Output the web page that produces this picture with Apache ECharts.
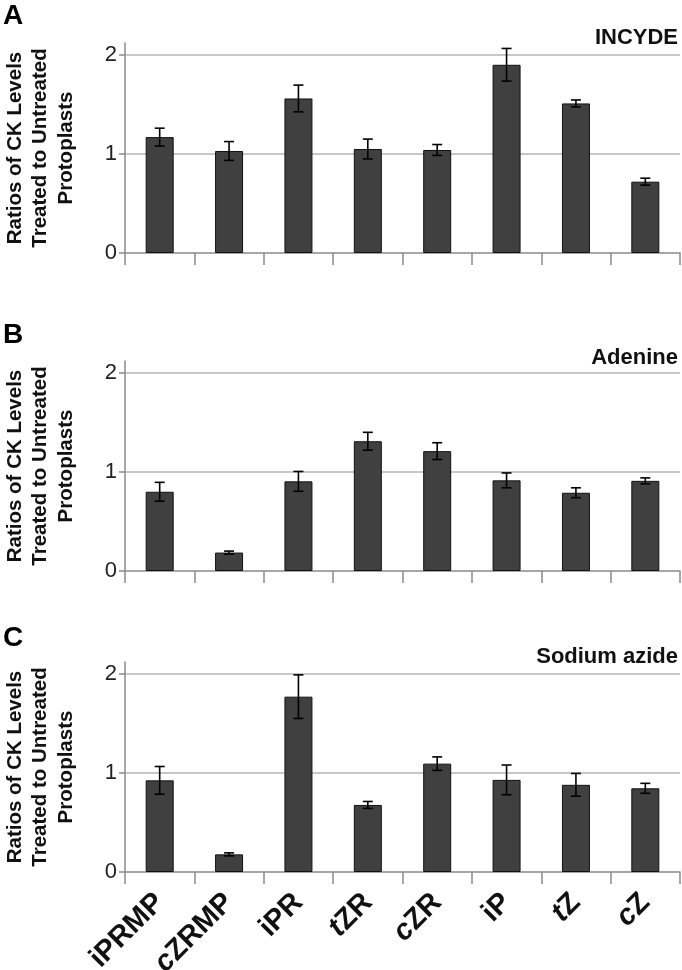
<!DOCTYPE html>
<html>
<head>
<meta charset="utf-8">
<script src="https://cdn.jsdelivr.net/npm/echarts@6/dist/echarts.min.js"></script>
<style>
  html, body { margin: 0; padding: 0; background: #fff; }
  #chart { width: 682px; height: 970px; }
</style>
</head>
<body>
<div id="chart"></div>
<script>
// ---- data ----
const categories = ['iPRMP', 'cZRMP', 'iPR', 'tZR', 'cZR', 'iP', 'tZ', 'cZ'];
const italicPrefix = [false, true, false, true, true, false, true, true];
const panelLetters = ['A', 'B', 'C'];
const panelTitles = ['INCYDE', 'Adenine', 'Sodium azide'];
const yTicks = [0, 1, 2];

const incydeValues = [1.17, 1.03, 1.56, 1.05, 1.04, 1.90, 1.51, 0.72];
const incydeErrors = [0.09, 0.095, 0.135, 0.10, 0.055, 0.165, 0.035, 0.035];

const adenineValues = [0.80, 0.186, 0.905, 1.31, 1.21, 0.915, 0.79, 0.91];
const adenineErrors = [0.095, 0.015, 0.10, 0.09, 0.085, 0.075, 0.05, 0.03];

const azideValues = [0.925, 0.178, 1.77, 0.677, 1.094, 0.93, 0.88, 0.845];
const azideErrors = [0.14, 0.015, 0.22, 0.035, 0.068, 0.15, 0.115, 0.05];

const panelValues = [incydeValues, adenineValues, azideValues];
const panelErrors = [incydeErrors, adenineErrors, azideErrors];

// ---- layout ----
const gridTops = [43, 361, 662];
const letterTops = [2, 321, 624];
const titleTops = [27, 347, 646];
const gridHeight = 210;
const yMax = 2.12;
const axisGray = '#8a8a8a';
const FONT = 'Liberation Sans, Arial, sans-serif';

const grids = [], xAxes = [], yAxes = [], series = [], graphics = [];

gridTops.forEach((top, p) => {
  grids.push({ left: 125, width: 555, top: top, height: gridHeight, containLabel: false, outerBoundsMode: 'none' });
  const isLast = p === gridTops.length - 1;
  xAxes.push({
    type: 'category', gridIndex: p, data: categories,
    axisLine: { lineStyle: { color: axisGray, width: 1.5 } },
    axisTick: { show: true, length: 12, alignWithLabel: false, lineStyle: { color: axisGray, width: 1.5 } },
    axisLabel: isLast ? {
      show: true, rotate: 45, margin: 26, interval: 0,
      formatter: function (v) {
        const idx = categories.indexOf(v);
        if (italicPrefix[idx]) return '{it|' + v.charAt(0) + '}{b|' + v.slice(1) + '}';
        return '{b|' + v + '}';
      },
      rich: {
        b: { fontFamily: FONT, fontSize: 29, fontWeight: 'bold', color: '#111' },
        it: { fontFamily: FONT, fontSize: 29, fontWeight: 'bold', fontStyle: 'italic', color: '#111' }
      }
    } : { show: false },
    splitLine: { show: false }
  });
  yAxes.push({
    type: 'value', gridIndex: p, min: 0, max: yMax,
    interval: 1,
    axisLine: { show: true, lineStyle: { color: axisGray, width: 1.5 } },
    axisTick: { show: true, length: 6, inside: false, customValues: yTicks, lineStyle: { color: axisGray, width: 1.5 } },
    axisLabel: { show: true, customValues: yTicks, fontFamily: FONT, fontSize: 22, color: '#222', margin: 8 },
    splitLine: { show: true, showMinLine: false, lineStyle: { color: '#b4b4b4', width: 1.5 } },
    name: 'Ratios of CK Levels\nTreated to Untreated\nProtoplasts',
    nameLocation: 'middle', nameRotate: 90, nameGap: 46,
    nameTextStyle: { fontFamily: FONT, fontSize: 20.5, fontWeight: 'bold', color: '#111', lineHeight: 25.5, align: 'center' }
  });
  series.push({
    type: 'bar', xAxisIndex: p, yAxisIndex: p,
    data: panelValues[p], barWidth: 28,
    itemStyle: { color: '#404040', borderColor: '#111', borderWidth: 1 },
    silent: true, z: 2
  });
  series.push({
    type: 'custom', xAxisIndex: p, yAxisIndex: p,
    data: panelValues[p].map((v, i) => [i, v, panelErrors[p][i]]),
    renderItem: function (params, api) {
      const x = api.value(0), v = api.value(1), e = api.value(2);
      const hi = api.coord([x, v + e]);
      const lo = api.coord([x, v - e]);
      const cap = 5;
      const style = { stroke: '#000', lineWidth: 1.6 };
      return {
        type: 'group',
        children: [
          { type: 'line', shape: { x1: hi[0], y1: hi[1], x2: lo[0], y2: lo[1] }, style: style },
          { type: 'line', shape: { x1: hi[0] - cap, y1: hi[1], x2: hi[0] + cap, y2: hi[1] }, style: style },
          { type: 'line', shape: { x1: lo[0] - cap, y1: lo[1], x2: lo[0] + cap, y2: lo[1] }, style: style }
        ]
      };
    },
    z: 3, silent: true
  });
  graphics.push({
    type: 'text', left: 3, top: letterTops[p],
    style: { text: panelLetters[p], fontFamily: FONT, fontSize: 28, fontWeight: 'bold', fill: '#000' }
  });
  graphics.push({
    type: 'text', right: 4, top: titleTops[p],
    style: { text: panelTitles[p], fontFamily: FONT, fontSize: 22, fontWeight: 'bold', fill: '#111' }
  });
});

const chart = echarts.init(document.getElementById('chart'), null, { renderer: 'canvas' });
chart.setOption({
  backgroundColor: '#fff',
  animation: false,
  grid: grids,
  xAxis: xAxes,
  yAxis: yAxes,
  series: series,
  graphic: graphics
});
</script>
</body>
</html>
